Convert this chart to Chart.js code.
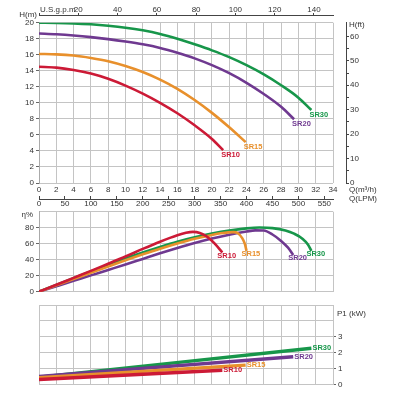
<!DOCTYPE html>
<html>
<head>
<meta charset="utf-8">
<script src="https://cdn.jsdelivr.net/npm/chart.js@4.4.1/dist/chart.umd.min.js"></script>
<style>
  html, body { margin: 0; padding: 0; background: #fff; }
  #wrap { position: relative; width: 400px; height: 400px; overflow: hidden; }
  .pane { position: absolute; left: 0; width: 400px; }
</style>
</head>
<body>
<div id="wrap">
  <div class="pane" style="top:0;height:210px"><canvas id="head" width="400" height="210"></canvas></div>
  <div class="pane" style="top:0;height:210px"><canvas id="feet" width="400" height="210"></canvas></div>
  <div class="pane" style="top:200px;height:100px"><canvas id="eff" width="400" height="100"></canvas></div>
  <div class="pane" style="top:298px;height:102px"><canvas id="power" width="400" height="102"></canvas></div>
</div>
<script>
// models
const MODELS = ['SR10', 'SR15', 'SR20', 'SR30'];

// H (m) against Q (m3/h)
const SR10_HEAD_Q = [0, 2, 4, 6, 8, 10, 12, 14, 16, 18, 20, 21.3];
const SR10_HEAD_H = [14.5, 14.4, 14.1, 13.65, 13.0, 12.15, 11.15, 10.0, 8.7, 7.2, 5.5, 4.1];
const SR15_HEAD_Q = [0, 2, 4, 6, 8, 10, 12, 14, 16, 18, 20, 22, 23.9];
const SR15_HEAD_H = [16.1, 16.05, 15.9, 15.6, 15.2, 14.6, 13.85, 12.9, 11.75, 10.35, 8.75, 6.95, 5.1];
const SR20_HEAD_Q = [0, 2, 4, 6, 8, 10, 12, 14, 16, 18, 20, 22, 24, 26, 28, 29.5];
const SR20_HEAD_H = [18.65, 18.55, 18.4, 18.2, 17.95, 17.65, 17.3, 16.85, 16.25, 15.55, 14.7, 13.7, 12.5, 11.1, 9.5, 7.95];
const SR30_HEAD_Q = [0, 2, 4, 6, 8, 10, 12, 14, 16, 18, 20, 22, 24, 26, 28, 30, 31.5];
const SR30_HEAD_H = [20.0, 19.98, 19.92, 19.8, 19.62, 19.38, 19.05, 18.6, 18.0, 17.3, 16.55, 15.7, 14.7, 13.55, 12.2, 10.65, 9.1];

// efficiency (%)
const SR10_EFF_Q = [0, 2, 4, 6, 8, 10, 12, 14, 16, 17, 17.8, 18.6, 19.4, 20.3, 21.2];
const SR10_EFF = [0, 8.6, 17.3, 26, 35, 44, 53.5, 62.5, 70.5, 73.6, 74.8, 73.5, 69, 60.5, 49];
const SR15_EFF_Q = [0, 2, 4, 6, 8, 10, 12, 14, 16, 18, 20, 21, 22.5, 23, 23.5, 23.8, 24];
const SR15_EFF = [0, 7.9, 15.8, 23.7, 31.5, 39.2, 46.7, 53.8, 60.3, 66.2, 71, 73, 74.5, 73, 67, 60, 51];
const SR20_EFF_Q = [0, 2, 4, 6, 8, 10, 12, 14, 16, 18, 20, 22, 24, 25, 26, 27, 28, 28.8, 29.4];
const SR20_EFF = [0, 6.8, 13.6, 20.4, 27.2, 34, 41, 48, 54.6, 60.8, 66.4, 71.3, 75.2, 76.7, 76.5, 71.5, 63.5, 55, 46];
const SR30_EFF_Q = [0, 2, 4, 6, 8, 10, 12, 14, 16, 18, 20, 22, 24, 25.5, 27, 28.5, 29.5, 30.5, 31.1, 31.5];
const SR30_EFF = [0, 8.5, 17, 25.3, 33.5, 41.5, 49, 56, 62.5, 68, 72.7, 76.5, 79.2, 80.2, 79.5, 76.5, 72.5, 66, 59, 51];

// P1 (kW)
const SR10_P1_Q = [0, 21.2];
const SR10_P1 = [0.30, 0.89];
const SR15_P1_Q = [0, 23.9];
const SR15_P1 = [0.42, 1.21];
const SR20_P1_Q = [0, 29.4];
const SR20_P1 = [0.50, 1.74];
const SR30_P1_Q = [0, 31.5];
const SR30_P1 = [0.44, 2.27];

// tick labels
const Q_TICKS = [0, 2, 4, 6, 8, 10, 12, 14, 16, 18, 20, 22, 24, 26, 28, 30, 32, 34];
const LPM_TICKS = [0, 50, 100, 150, 200, 250, 300, 350, 400, 450, 500, 550];
const GPM_TICKS = [0, 20, 40, 60, 80, 100, 120, 140];
const H_M_TICKS = [0, 2, 4, 6, 8, 10, 12, 14, 16, 18, 20];
const H_FT_TICKS = [0, 5, 10, 15, 20, 25, 30, 35, 40, 45, 50, 55, 60];
const EFF_TICKS = [0, 20, 40, 60, 80, 100];
const P1_TICKS = [0, 1, 2, 3, 4, 5];

// unit conversions
const LPM_PER_M3H = 1000 / 60;
const GPM_PER_M3H = 4.4029;
const FT_PER_M = 3.28084;
const Q_MAX = 34;

const COLORS = ['#cc1a36', '#e8902c', '#6f3990', '#17964a'];
const GRID = '#c4c4c4';
const INK = '#333';
const FONT = '"Liberation Sans", Arial, Helvetica, sans-serif';

Chart.defaults.font.family = FONT;
Chart.defaults.font.size = 8;
Chart.defaults.color = INK;
Chart.defaults.animation = false;

function pts(qs, vs) {
    return qs.map((q, i) => ({ x: q, y: vs[i] }));
}
function fixTicks(list) {
    return scale => { scale.ticks = list.map(v => ({ value: v })); };
}
function series(qLists, vLists, width) {
    return MODELS.map((m, i) => ({
        label: m,
        data: pts(qLists[i], vLists[i]),
        borderColor: COLORS[i],
        borderWidth: width,
        pointRadius: 0,
        cubicInterpolationMode: 'monotone',
        fill: false
    }));
}

// model name next to the last point of each curve
function endLabels(dx, dy) {
    return {
        id: 'endLabels',
        afterDatasetsDraw(chart) {
            const ctx = chart.ctx;
            ctx.save();
            ctx.font = 'bold 7.5px ' + FONT;
            ctx.textBaseline = 'middle';
            ctx.textAlign = 'left';
            chart.data.datasets.forEach((ds, i) => {
                const els = chart.getDatasetMeta(i).data;
                const last = els[els.length - 1];
                ctx.fillStyle = ds.borderColor;
                ctx.fillText(ds.label, last.x + dx, last.y + dy);
            });
            ctx.restore();
        }
    };
}

// axis unit captions
function notes(items) {
    return {
        id: 'notes',
        afterDraw(chart) {
            const ctx = chart.ctx;
            ctx.save();
            ctx.font = '8px ' + FONT;
            ctx.fillStyle = INK;
            ctx.textBaseline = 'middle';
            items.forEach(n => {
                ctx.textAlign = n.align || 'left';
                ctx.fillText(n.text, n.x, n.y);
            });
            ctx.restore();
        }
    };
}

const quiet = { legend: { display: false }, tooltip: { enabled: false } };

// hidden-label Q axis for the lower panels
const qGridAxis = {
    type: 'linear', position: 'bottom', min: 0, max: Q_MAX,
    afterBuildTicks: fixTicks(Q_TICKS),
    afterFit: s => { s.height = 0; },
    grid: { color: GRID, drawTicks: false },
    border: { display: false },
    ticks: { display: false }
};

// head chart
new Chart(document.getElementById('head'), {
    type: 'line',
    data: {
        datasets: series(
            [SR10_HEAD_Q, SR15_HEAD_Q, SR20_HEAD_Q, SR30_HEAD_Q],
            [SR10_HEAD_H, SR15_HEAD_H, SR20_HEAD_H, SR30_HEAD_H], 2.6)
    },
    options: {
        responsive: false,
        layout: { padding: { left: 0, right: 67, top: 22.7, bottom: 0 } },
        plugins: quiet,
        scales: {
            x: {
                type: 'linear', position: 'bottom', min: 0, max: Q_MAX,
                afterBuildTicks: fixTicks(Q_TICKS),
                afterFit: s => { s.height = 16; },
                grid: { color: GRID, drawTicks: false },
                border: { display: false },
                ticks: { padding: 2.2, autoSkip: false, maxRotation: 0 }
            },
            lpm: {
                type: 'linear', axis: 'x', position: 'bottom', min: 0, max: Q_MAX * LPM_PER_M3H,
                afterBuildTicks: fixTicks(LPM_TICKS),
                afterFit: s => { s.height = 11; },
                grid: { drawOnChartArea: false, tickLength: -3, tickColor: '#444' },
                border: { color: '#444' },
                ticks: { padding: 3.2, autoSkip: false, maxRotation: 0 }
            },
            gpm: {
                type: 'linear', axis: 'x', position: { y: 20.95 }, min: 0, max: Q_MAX * GPM_PER_M3H,
                afterBuildTicks: fixTicks(GPM_TICKS),
                grid: { drawOnChartArea: false, tickLength: -3, tickColor: '#444' },
                border: { color: '#444' },
                ticks: { padding: -7.5, autoSkip: false, maxRotation: 0, callback: v => v === 0 ? '' : v }
            },
            y: {
                type: 'linear', position: 'left', min: 0, max: 20,
                afterBuildTicks: fixTicks(H_M_TICKS),
                afterFit: s => { s.width = 39; },
                grid: { color: GRID, tickLength: 3, tickColor: '#666' },
                border: { color: '#aaa' },
                ticks: { padding: 2 }
            }
        }
    },
    plugins: [endLabels(-2, 4.5), notes([
        { text: 'H(m)', x: 37, y: 15, align: 'right' },
        { text: 'U.S.g.p.m', x: 40, y: 9.3 },
        { text: 'Q(m\u00B3/h)', x: 349, y: 190 },
        { text: 'Q(LPM)', x: 349, y: 198.5 }
    ])]
});

// feet scale beside the head chart
new Chart(document.getElementById('feet'), {
    type: 'line',
    data: { datasets: [] },
    options: {
        responsive: false,
        layout: { padding: { left: 39, right: 0, top: 22.7, bottom: 27 } },
        plugins: quiet,
        scales: {
            x: { type: 'linear', display: false, min: 0, max: 1 },
            y: {
                type: 'linear', position: 'right', min: 0, max: 20 * FT_PER_M,
                afterBuildTicks: fixTicks(H_FT_TICKS),
                afterFit: s => { s.width = 54; },
                grid: { drawOnChartArea: false, tickLength: 3, tickColor: '#444' },
                border: { color: '#444' },
                ticks: { padding: 1, callback: v => v % 10 === 0 ? v : '' }
            }
        }
    },
    plugins: [notes([{ text: 'H(ft)', x: 349, y: 25 }])]
});

// efficiency chart
new Chart(document.getElementById('eff'), {
    type: 'line',
    data: {
        datasets: series(
            [SR10_EFF_Q, SR15_EFF_Q, SR20_EFF_Q, SR30_EFF_Q],
            [SR10_EFF, SR15_EFF, SR20_EFF, SR30_EFF], 2.6)
    },
    options: {
        responsive: false,
        layout: { padding: { left: 0, right: 67, top: 11.7, bottom: 8.3 } },
        plugins: quiet,
        scales: {
            x: qGridAxis,
            y: {
                type: 'linear', position: 'left', min: 0, max: 100,
                afterBuildTicks: fixTicks(EFF_TICKS),
                afterFit: s => { s.width = 39; },
                grid: { color: GRID, tickLength: 3, tickColor: c => c.tick && c.tick.value === 100 ? 'rgba(0,0,0,0)' : '#666' },
                border: { color: '#aaa' },
                ticks: { padding: 2, callback: v => v === 100 ? '' : v }
            }
        }
    },
    plugins: [endLabels(-5, 3), notes([{ text: '\u03B7%', x: 33, y: 14.7, align: 'right' }])]
});

// power chart
new Chart(document.getElementById('power'), {
    type: 'line',
    data: {
        datasets: series(
            [SR10_P1_Q, SR15_P1_Q, SR20_P1_Q, SR30_P1_Q],
            [SR10_P1, SR15_P1, SR20_P1, SR30_P1], 3.4)
    },
    options: {
        responsive: false,
        layout: { padding: { left: 39, right: 0, top: 7, bottom: 15.7 } },
        plugins: quiet,
        scales: {
            x: qGridAxis,
            y: {
                type: 'linear', position: 'right', min: 0, max: 5,
                afterBuildTicks: fixTicks(P1_TICKS),
                afterFit: s => { s.width = 67; },
                grid: { color: GRID, tickLength: 3, tickColor: c => c.tick && c.tick.value > 3 ? 'rgba(0,0,0,0)' : '#666' },
                border: { color: GRID },
                ticks: { padding: 2, callback: v => v > 3 ? '' : v }
            }
        }
    },
    plugins: [endLabels(1, 0), notes([{ text: 'P1 (kW)', x: 337, y: 16 }])]
});
</script>
</body>
</html>
